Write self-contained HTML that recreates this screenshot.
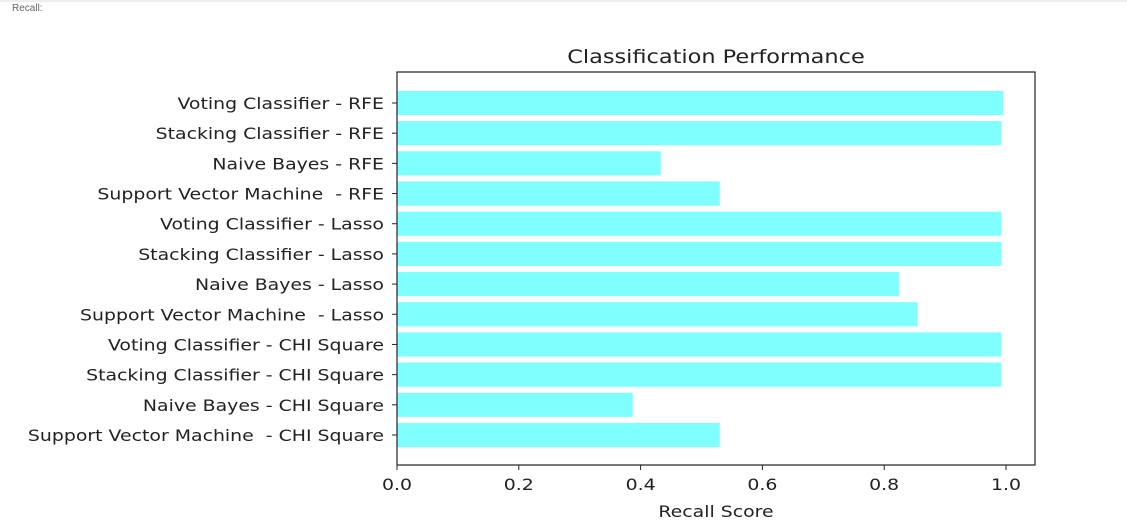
<!DOCTYPE html>
<html><head><meta charset="utf-8"><style>
body{margin:0;background:#fff;width:1127px;height:528px;overflow:hidden;font-family:"DejaVu Sans","Liberation Sans",sans-serif;}
#topline{position:absolute;left:0;top:0;width:1127px;height:2px;background:#eee;}
#recall{position:absolute;left:12px;top:3px;font-size:10px;color:#666;font-family:"Liberation Sans",sans-serif;}
svg{position:absolute;left:0;top:0;}
svg text{white-space:pre;font-family:"DejaVu Sans","Liberation Sans",sans-serif;}
</style></head><body>
<div id="topline"></div>
<div id="recall">Recall:</div>
<svg id="chart" width="1127" height="528"></svg>
<script>
const categories=["Voting Classifier - RFE","Stacking Classifier - RFE","Naive Bayes - RFE","Support Vector Machine  - RFE","Voting Classifier - Lasso","Stacking Classifier - Lasso","Naive Bayes - Lasso","Support Vector Machine  - Lasso","Voting Classifier - CHI Square","Stacking Classifier - CHI Square","Naive Bayes - CHI Square","Support Vector Machine  - CHI Square"];
const recallValues=[0.995,0.992,0.433,0.530,0.992,0.992,0.824,0.855,0.992,0.992,0.387,0.530];
const tickValues=[0,0.2,0.4,0.6,0.8,1.0];
const tickLabels=["0.0","0.2","0.4","0.6","0.8","1.0"];

const NS="http://www.w3.org/2000/svg";
const svg=document.getElementById('chart');
const L=397,R=1035,T=72,B=465;
const x0=397,pxPerUnit=609;
const STRETCH=1.18;
function xs(v){return x0+v*pxPerUnit;}
const n=categories.length;
const firstC=103,lastC=435;
const step=(lastC-firstC)/(n-1);
function ys(i){return firstC+i*step;}
function mk(tag,attrs,text){const e=document.createElementNS(NS,tag);for(const k in attrs)e.setAttribute(k,attrs[k]);if(text!==undefined)e.textContent=text;svg.appendChild(e);return e;}
function stretch(e){const w=e.getComputedTextLength();e.setAttribute('textLength',w*STRETCH);e.setAttribute('lengthAdjust','spacingAndGlyphs');}

let t=mk('text',{x:(L+R)/2,y:63,'text-anchor':'middle','font-size':'19','fill':'#222'},'Classification Performance');


stretch(t);

categories.forEach((c,i)=>{
  const bh=step*0.8;
  const r=mk('rect',{x:xs(0),y:ys(i)-bh/2,width:xs(recallValues[i])-xs(0),height:bh,fill:'#80ffff'});
  
  
  const tk=mk('line',{x1:L-5,x2:L,y1:ys(i),y2:ys(i),stroke:'#222','stroke-width':1});
  
  
  const lb=mk('text',{x:L-13,y:ys(i)+6,'text-anchor':'end','font-size':'16','fill':'#222'},c);
  
  
  stretch(lb);
});
const frame=mk('rect',{x:L,y:T,width:R-L,height:B-T,fill:'none',stroke:'#222','stroke-width':1.2});


tickValues.forEach((v,i)=>{
  const tk=mk('line',{x1:xs(v),x2:xs(v),y1:B,y2:B+5,stroke:'#222','stroke-width':1});
  
  
  const lb=mk('text',{x:xs(v),y:B+25,'text-anchor':'middle','font-size':'16','fill':'#222'},tickLabels[i]);
  
  
  stretch(lb);
});
const xt=mk('text',{x:(L+R)/2,y:517,'text-anchor':'middle','font-size':'16','fill':'#222'},'Recall Score');


stretch(xt);
</script>
</body></html>
